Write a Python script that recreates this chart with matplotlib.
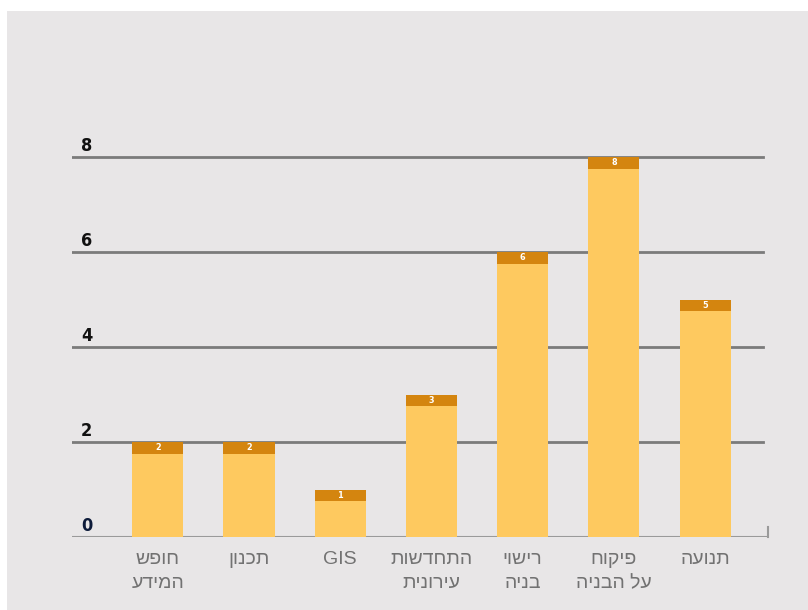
import matplotlib.pyplot as plt
from matplotlib.patches import Rectangle

# departments (Hebrew, logical order) and counts
categories = ['חופש\nהמידע', 'תכנון', 'GIS', 'התחדשות\nעירונית', 'רישוי\nבניה', 'פיקוח\nעל הבניה', 'תנועה']
values = [2, 2, 1, 3, 6, 8, 5]
yticks = [0, 2, 4, 6, 8]

BG = '#e8e6e7'
BAR = '#fec95f'
CAP = '#d4850f'
GRID = '#7b7b7b'


def rtl(s):
    # matplotlib lays glyphs left to right, so flip Hebrew lines by hand
    out = []
    for line in s.split('\n'):
        if any('\u0590' <= c <= '\u05ff' for c in line):
            line = line[::-1]
        out.append(line)
    return '\n'.join(out)


fig = plt.figure(figsize=(8.08, 6.10), dpi=100, facecolor='white')
fig.patches.append(Rectangle((7 / 808, 0), 1, 1 - 11 / 610, transform=fig.transFigure,
                             facecolor=BG, edgecolor='none', zorder=-10))

W, H = 808, 610
x0, x1 = 72, 768
y0, y1 = 537, 100
ax = fig.add_axes([x0 / W, (H - y0) / H, (x1 - x0) / W, (y0 - y1) / H])
ax.set_facecolor('none')
for s in ax.spines.values():
    s.set_visible(False)
ax.set_xticks([])
ax.set_yticks([])

ax.set_xlim(-0.94, 6.69)
top = (y0 - y1) / 47.5
ax.set_ylim(0, top)

gx = (763 - x0) / (x1 - x0)
for t in yticks[1:]:
    ax.axhline(t, xmin=0, xmax=gx, color=GRID, lw=2.0, zorder=1)
ax.axhline(0, color='#9a9a9a', lw=1.5, zorder=1)
ax.plot([6.69, 6.69], [0, 0.21], color='#9a9a9a', lw=1.5, clip_on=False, zorder=1)

for t in yticks:
    ax.text(-0.84, t + 0.13, str(t), ha='left', va='baseline', fontsize=13,
            fontweight='bold', fontstretch='condensed', family='DejaVu Sans',
            color='#0d1b3a' if t == 0 else '#111111')

xs = list(range(len(values)))
cap = 0.25
ax.bar(xs, values, width=0.56, color=BAR, zorder=2)
ax.bar(xs, [cap] * len(values), bottom=[v - cap for v in values], width=0.56, color=CAP, zorder=3)
for x, v in zip(xs, values):
    ax.text(x, v - cap / 2, str(v), ha='center', va='center', fontsize=6.5,
            fontweight='bold', fontstretch='condensed', color='white', zorder=4)

for x, c in zip(xs, categories):
    ax.text(x, -0.3, rtl(c), ha='center', va='top', fontsize=14,
            family=['Liberation Sans', 'DejaVu Sans'],
            color='#727272', linespacing=1.5, clip_on=False)

fig.savefig('out.png', dpi=100, facecolor='white')
